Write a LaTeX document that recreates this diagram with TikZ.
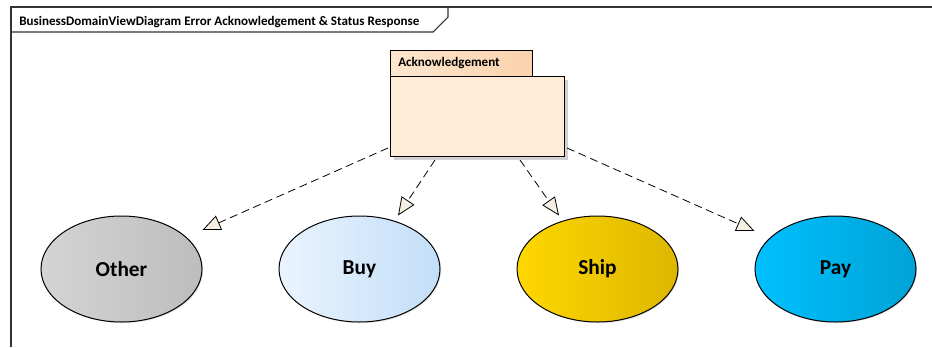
\documentclass[tikz,border=0pt]{standalone}
\usepackage{fontspec}
\setmainfont{Carlito}
\usetikzlibrary{positioning,arrows.meta,shapes,shadows}
\definecolor{pkgFill}{HTML}{FEECD9}
\definecolor{tabLeft}{HTML}{FDE6CF}
\definecolor{tabRight}{HTML}{FAD2AC}
\definecolor{tipFill}{HTML}{F6EEE3}
\definecolor{otherL}{HTML}{D4D4D4}
\definecolor{otherR}{HTML}{BDBDBD}
\definecolor{buyL}{HTML}{EAF4FE}
\definecolor{buyR}{HTML}{C2DEF8}
\definecolor{shipL}{HTML}{FFD700}
\definecolor{shipR}{HTML}{DCB700}
\definecolor{payL}{HTML}{00C0FF}
\definecolor{payR}{HTML}{00A3D6}

\begin{document}
\begin{tikzpicture}[x=0.75pt,y=-0.75pt,
	frame/.style={
		draw=black!80,
		line width=0.8pt
	},
	pkg/.style={
		draw,
		line width=0.75pt,
		anchor=north west,
		inner sep=0pt
	},
	domainbox/.style={
		draw,
		ellipse,
		line width=0.75pt,
		minimum width=120.75pt,
		minimum height=79.5pt,
		inner sep=0pt,
		font=\fontsize{16}{19}\selectfont\bfseries,
		drop shadow={shadow xshift=0.8pt,shadow yshift=-0.8pt,opacity=0.25}
	},
	realize/.style={
		dash pattern=on 6pt off 3.5pt,
		line width=0.6pt,
		-{Triangle[length=13.5pt,width=11.5pt,fill=tipFill]}
	},
	node distance=57pt
	]
	\useasboundingbox (0,0) rectangle (932,347);
	
	% diagram frame
	\draw[frame] (11,347) -- (11,7) -- (932,7);
	\draw[frame] (11,32) -- (433,32) -- (448,17) -- (448,7);
	\node[anchor=west,inner sep=0pt,font=\fontsize{9.8}{12}\selectfont\bfseries] 
	(title) at (19,22) {BusinessDomainViewDiagram Error Acknowledgement \& Status Response};
	
	% package
	\node[pkg,left color=tabLeft,right color=tabRight,minimum width=106.5pt,minimum height=19.5pt] 
	(ackTab) at (390,50) {};
	\node[pkg,fill=pkgFill,minimum width=130.5pt,minimum height=60pt,
	drop shadow={shadow xshift=2.5pt,shadow yshift=-2.5pt,fill=black!18,opacity=1}] 
	(ack) at (390,76) {};
	\node[anchor=west,inner sep=0pt,font=\fontsize{9.8}{12}\selectfont\bfseries] 
	(ackName) at (398,63) {Acknowledgement};
	
	% domains
	\node[domainbox,left color=otherL,right color=otherR] at (121.5,269) 
	(other) {Other};
	\node[domainbox,left color=buyL,right color=buyR,right=of other] 
	(buy) {Buy};
	\node[domainbox,left color=shipL,right color=shipR,right=of buy] 
	(ship) {Ship};
	\node[domainbox,left color=payL,right color=payR,right=of ship] 
	(pay) {Pay};
	
	\draw[realize] ([xshift=-1.5pt,yshift=6.75pt]ack.south west) -- ([yshift=29.25pt]other.east);
	\draw[realize] ([xshift=33.75pt,yshift=-2.25pt]ack.south west) -- ([xshift=28.9pt]buy.north);
	\draw[realize] ([xshift=-33.75pt,yshift=-2.25pt]ack.south east) -- ([xshift=-28.9pt]ship.north);
	\draw[realize] ([xshift=1.5pt,yshift=6.75pt]ack.south east) -- ([yshift=28.5pt]pay.west);
\end{tikzpicture}
\end{document}
